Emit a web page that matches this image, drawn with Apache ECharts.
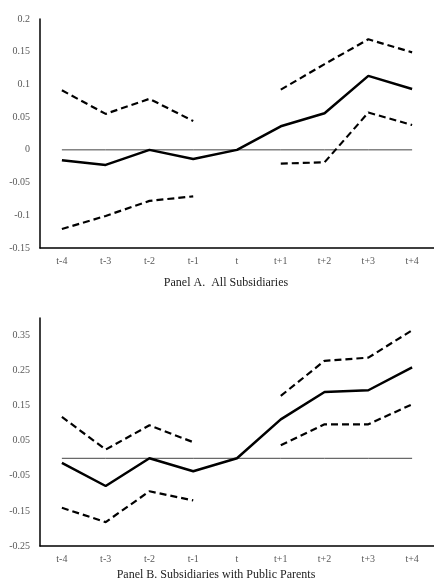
<!DOCTYPE html>
<html>
<head>
<meta charset="utf-8">
<script src="https://cdn.jsdelivr.net/npm/echarts@6/dist/echarts.min.js"></script>
<style>
  html, body { margin: 0; padding: 0; background: #fff; }
  #chart { width: 434px; height: 583px; }
</style>
</head>
<body>
<div id="chart"></div>
<script>
const categories = ['t-4', 't-3', 't-2', 't-1', 't', 't+1', 't+2', 't+3', 't+4']

// Panel A. All Subsidiaries
const estA = [-0.016, -0.023, 0.0, -0.014, 0.0, 0.036, 0.056, 0.113, 0.093]
const upperA = [0.091, 0.055, 0.078, 0.044, null, 0.092, 0.131, 0.169, 0.149]
const lowerA = [-0.121, -0.101, -0.078, -0.071, null, -0.021, -0.019, 0.057, 0.038]

// Panel B. Subsidiaries with Public Parents
const estB = [-0.013, -0.079, 0.0, -0.037, 0.0, 0.111, 0.189, 0.194, 0.259]
const upperB = [0.118, 0.025, 0.094, 0.046, null, 0.178, 0.278, 0.287, 0.365]
const lowerB = [-0.141, -0.182, -0.094, -0.120, null, 0.037, 0.097, 0.097, 0.154]

const zeroLine = [0, 0, 0, 0, 0, 0, 0, 0, 0]

const titleA = 'Panel A.  All Subsidiaries'
const titleB = 'Panel B. Subsidiaries with Public Parents'

const chart = echarts.init(document.getElementById('chart'), null, { renderer: 'canvas' })

const labelFont = {
    fontFamily: 'Liberation Serif',
    fontSize: 10,
    color: '#595959'
}

const makeXAxis = (gridIndex) => ({
    type: 'category',
    gridIndex: gridIndex,
    data: categories,
    boundaryGap: true,
    axisLine: { onZero: false, lineStyle: { color: '#000', width: 1.5 } },
    axisTick: { show: false },
    axisLabel: Object.assign({ margin: 8 }, labelFont),
    splitLine: { show: false }
})

const makeYAxis = (gridIndex, min, max, interval) => ({
    type: 'value',
    gridIndex: gridIndex,
    min: min,
    max: max,
    interval: interval,
    axisLine: { show: true, lineStyle: { color: '#000', width: 1.5 } },
    axisTick: { show: false },
    splitLine: { show: false },
    axisLabel: Object.assign({
        margin: 10,
        formatter: (v) => {
            // 0.4 is only the axis end in panel B, no label there
            if (Math.abs(v - 0.4) < 1e-9) return ''
            return String(parseFloat(v.toFixed(2)))
        }
    }, labelFont)
})

const solid = (data, i) => ({
    type: 'line', xAxisIndex: i, yAxisIndex: i, data: data,
    symbol: 'none', silent: true,
    lineStyle: { color: '#000', width: 2.5 }
})

const dashed = (data, i) => ({
    type: 'line', xAxisIndex: i, yAxisIndex: i, data: data,
    symbol: 'none', silent: true, connectNulls: false,
    lineStyle: { color: '#000', width: 2.2, type: [7, 4] }
})

const zero = (i) => ({
    type: 'line', xAxisIndex: i, yAxisIndex: i, data: zeroLine,
    symbol: 'none', silent: true, z: 1,
    lineStyle: { color: '#444', width: 1 }
})

const titleStyle = { fontFamily: 'Liberation Serif', fontSize: 12, fontWeight: 'normal', color: '#222' }

const opt = {
    animation: false,
    backgroundColor: '#fff',
    title: [
        { text: titleA, left: 226, top: 277, padding: 0, textAlign: 'center', textStyle: titleStyle },
        { text: titleB, left: 216, top: 569, padding: 0, textAlign: 'center', textStyle: titleStyle }
    ],
    grid: [
        { left: 40, top: 19, width: 398, height: 229 },
        { left: 40, top: 318, width: 398, height: 228 }
    ],
    xAxis: [makeXAxis(0), makeXAxis(1)],
    yAxis: [
        makeYAxis(0, -0.15, 0.2, 0.05),
        makeYAxis(1, -0.25, 0.4, 0.1)
    ],
    series: [
        zero(0), solid(estA, 0), dashed(upperA, 0), dashed(lowerA, 0),
        zero(1), solid(estB, 1), dashed(upperB, 1), dashed(lowerB, 1)
    ]
}

chart.setOption(opt)
</script>
</body>
</html>
